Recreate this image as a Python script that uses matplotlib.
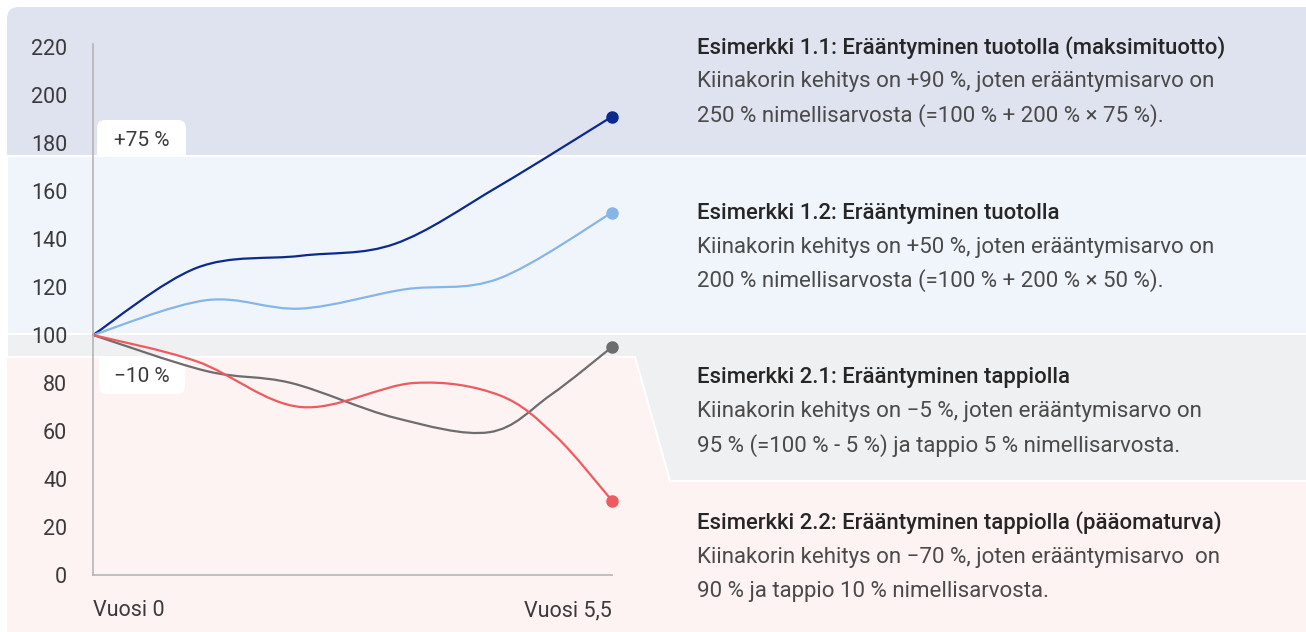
import matplotlib
matplotlib.use('Agg')
from matplotlib import pyplot as plt
from matplotlib.path import Path
from matplotlib.patches import PathPatch, FancyBboxPatch, Polygon, Rectangle

plt.rcParams['font.family'] = ['Roboto', 'DejaVu Sans']

# data (x in years, y in index points)
navy_x = [0, 1.1, 2.2, 3.2, 4.3, 5.5]
navy_y = [100, 128, 133, 138, 162, 191]
blue_x = [0, 1.2, 2.2, 3.3, 4.3, 5.5]
blue_y = [100, 114.5, 111, 119, 123.5, 151]
gray_x = [0, 1.2, 2.1, 3.2, 4.2, 4.85, 5.5]
gray_y = [100, 85, 80, 65.5, 59.5, 75, 95]
red_x = [0, 1.1, 2.2, 3.4, 4.3, 4.9, 5.5]
red_y = [100, 89, 70, 80, 75, 58, 31]

yticks = [0, 20, 40, 60, 80, 100, 120, 140, 160, 180, 200, 220]
xtick_pos = [0, 5.5]
xtick_labels = ['Vuosi 0', 'Vuosi 5,5']

titles = ['Esimerkki 1.1: Erääntyminen tuotolla (maksimituotto)',
          'Esimerkki 1.2: Erääntyminen tuotolla',
          'Esimerkki 2.1: Erääntyminen tappiolla',
          'Esimerkki 2.2: Erääntyminen tappiolla (pääomaturva)']
bodies = [['Kiinakorin kehitys on +90 %, joten erääntymisarvo on',
           '250 % nimellisarvosta (=100 % + 200 % × 75 %).'],
          ['Kiinakorin kehitys on +50 %, joten erääntymisarvo on',
           '200 % nimellisarvosta (=100 % + 200 % × 50 %).'],
          ['Kiinakorin kehitys on \u22125 %, joten erääntymisarvo on',
           '95 % (=100 % - 5 %) ja tappio 5 % nimellisarvosta.'],
          ['Kiinakorin kehitys on \u221270 %, joten erääntymisarvo  on',
           '90 % ja tappio 10 % nimellisarvosta.']]
title_y = [48, 213, 378, 523]

LAV = '#dfe2ef'
LBLUE = '#f0f5fb'
GRAYBG = '#eff0f2'
PINK = '#fdf3f2'


def smooth_path(xs, ys):
    pts = list(zip(xs, ys))
    n = len(pts)
    verts = [pts[0]]
    codes = [Path.MOVETO]
    for i in range(n - 1):
        p0 = pts[i - 1] if i > 0 else pts[i]
        p1 = pts[i]
        p2 = pts[i + 1]
        p3 = pts[i + 2] if i + 2 < n else pts[i + 1]
        c1 = (p1[0] + (p2[0] - p0[0]) / 6, p1[1] + (p2[1] - p0[1]) / 6)
        c2 = (p2[0] - (p3[0] - p1[0]) / 6, p2[1] - (p3[1] - p1[1]) / 6)
        verts += [c1, c2, p2]
        codes += [Path.CURVE4] * 3
    return Path(verts, codes)


fig = plt.figure(figsize=(13.06, 6.32), dpi=100)

# background in pixel coordinates
bg = fig.add_axes([0, 0, 1, 1], zorder=0)
bg.set_xlim(0, 1306)
bg.set_ylim(632, 0)
bg.axis('off')

bg.add_patch(FancyBboxPatch((7, 7), 1310, 300, boxstyle='round,pad=0,rounding_size=12',
                            facecolor=LAV, edgecolor='none'))
bg.add_patch(FancyBboxPatch((97, 120), 89, 60, boxstyle='round,pad=0,rounding_size=8',
                            facecolor='white', edgecolor='none'))
bg.add_patch(Rectangle((7, 155.5), 1310, 178, facecolor=LBLUE, edgecolor='white', lw=1.5))
bg.add_patch(Rectangle((7, 357), 1310, 290, facecolor=PINK, edgecolor='none'))
bg.add_patch(FancyBboxPatch((99, 340), 86, 54, boxstyle='round,pad=0,rounding_size=8',
                            facecolor='white', edgecolor='none'))
bg.add_patch(Polygon([(7, 334), (1320, 334), (1320, 481), (670, 481), (635, 357), (7, 357)],
                     closed=True, facecolor=GRAYBG, edgecolor='white', lw=1.5))

bg.text(141.5, 141, '+75 %', ha='center', va='center', fontsize=15, color='#3a3a3a')
bg.text(142, 377, '\u221210 %', ha='center', va='center', fontsize=15, color='#3a3a3a')

for t, b, ty in zip(titles, bodies, title_y):
    bg.text(697, ty, t, ha='left', va='center', fontsize=15.9, fontweight='medium', color='#262626')
    bg.text(697, ty + 34, b[0], ha='left', va='center', fontsize=16, color='#4a4a4a')
    bg.text(697, ty + 68, b[1], ha='left', va='center', fontsize=16, color='#4a4a4a')

# chart axes
ax = fig.add_axes([93 / 1306, (632 - 575) / 632, 519 / 1306, (575 - 44) / 632], zorder=1)
ax.patch.set_alpha(0)
ax.set_xlim(0, 5.5)
ax.set_ylim(0, 221.25)

series = [(navy_x, navy_y, '#0b2a8c'), (blue_x, blue_y, '#86b6e6'),
          (gray_x, gray_y, '#6d6d6d'), (red_x, red_y, '#ef5a5f')]
for xs, ys, c in series:
    ax.add_patch(PathPatch(smooth_path(xs, ys), fill=False, edgecolor=c, lw=1.6,
                           capstyle='round', clip_on=False))
    ax.plot(xs[-1], ys[-1], 'o', ms=8, color=c, clip_on=False, zorder=5)

ax.set_yticks(yticks)
ax.set_yticklabels([str(v) for v in yticks])
ax.set_xticks(xtick_pos)
ax.set_xticklabels(xtick_labels)
ax.get_xticklabels()[0].set_horizontalalignment('left')
ax.get_xticklabels()[1].set_horizontalalignment('right')
ax.tick_params(axis='y', length=0, pad=18.5, labelsize=15.5, labelcolor='#3a3a3a')
ax.tick_params(axis='x', length=0, pad=18, labelsize=15.5, labelcolor='#3a3a3a')

for s in ['top', 'right']:
    ax.spines[s].set_visible(False)
for s in ['left', 'bottom']:
    ax.spines[s].set_color('#b5b5b5')
    ax.spines[s].set_linewidth(1.2)

plt.savefig('out.png', dpi=100)
plt.close()
